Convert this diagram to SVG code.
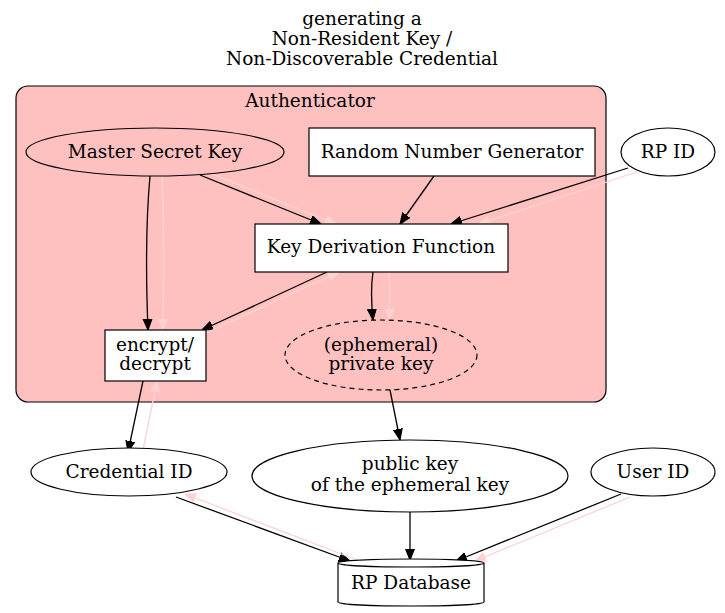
<svg xmlns="http://www.w3.org/2000/svg" width="725" height="613" viewBox="0 0 725 613">
<defs>
<marker id="ab" viewBox="0 0 10 10" refX="10" refY="5" markerWidth="11" markerHeight="11" markerUnits="userSpaceOnUse" orient="auto"><path d="M0,1 L10,5 L0,9 Z" fill="#000" stroke="#000"/></marker>
<marker id="ap" viewBox="0 0 10 10" refX="10" refY="5" markerWidth="11" markerHeight="11" markerUnits="userSpaceOnUse" orient="auto"><path d="M0,1 L10,5 L0,9 Z" fill="#ffd2d2" stroke="#ffd2d2"/></marker>
</defs>
<style>
text{font-family:"DejaVu Serif",serif;font-size:18.5px;fill:#000;text-anchor:middle}
.n{fill:#fff;stroke:#000;stroke-width:1.2}
.c{fill:none;stroke:#000;stroke-width:1.2}
.b{fill:none;stroke:#000;stroke-width:1.3;marker-end:url(#ab)}
.p{fill:none;stroke:#ffd2d2;stroke-width:1.3;marker-end:url(#ap)}
</style>
<rect width="725" height="613" fill="#fff"/>
<g id="title">
<text x="362" y="25">generating a</text>
<text x="362" y="45">Non-Resident Key /</text>
<text x="362" y="65">Non-Discoverable Credential</text>
</g>
<g id="cluster_authenticator">
<rect x="16" y="86" width="590" height="316" rx="12" fill="#ffc0c0" stroke="#000" stroke-width="1.2"/>
<text x="310" y="107">Authenticator</text>
</g>
<g id="edges">
<path class="b" d="M150,176 C146,220 146,280 148,330"/>
<path class="p" d="M162,176 C164,220 164,280 163,330"/>
<path class="b" d="M200,175 L321,224"/>
<path class="p" d="M212,174 L336,224"/>
<path class="b" d="M434,176 L400,224"/>
<path class="b" d="M628,168 L451,224"/>
<path class="p" d="M637,172 L479,224"/>
<path class="b" d="M327,272 L202,330"/>
<path class="p" d="M206,333 L339,272"/>
<path class="b" d="M373,272 C371,285 371,300 373,320"/>
<path class="p" d="M389,272 C390,285 390,300 389,320"/>
<path class="b" d="M143,381 L128,452"/>
<path class="p" d="M143,450 L157,381"/>
<path class="b" d="M390,390 L400,440"/>
<path class="b" d="M176,497 L350,561"/>
<path class="p" d="M357,560 L185,494"/>
<path class="b" d="M410,511 L410,560"/>
<path class="b" d="M621,494 L456,561"/>
<path class="p" d="M630,497 L475,561"/>
</g>
<g id="master_secret_key">
<ellipse class="c" cx="155" cy="152" rx="129" ry="24"/>
<text x="155" y="158">Master Secret Key</text>
</g>
<g id="rng">
<rect class="n" x="309" y="128" width="286" height="48"/>
<text x="452" y="158">Random Number Generator</text>
</g>
<g id="rp_id">
<ellipse class="n" cx="668" cy="152" rx="47" ry="24"/>
<text x="668" y="158">RP ID</text>
</g>
<g id="kdf">
<rect class="n" x="255" y="224" width="253" height="48"/>
<text x="381" y="253">Key Derivation Function</text>
</g>
<g id="encrypt_decrypt">
<rect class="n" x="105" y="330" width="101" height="51"/>
<text x="155" y="351">encrypt/</text>
<text x="155" y="370">decrypt</text>
</g>
<g id="ephemeral_private_key">
<ellipse class="c" cx="381" cy="355" rx="96" ry="35" stroke-dasharray="5,4"/>
<text x="381" y="351">(ephemeral)</text>
<text x="381" y="370">private key</text>
</g>
<g id="credential_id">
<ellipse class="n" cx="129" cy="472" rx="98" ry="24"/>
<text x="129" y="478">Credential ID</text>
</g>
<g id="public_key">
<ellipse class="n" cx="410" cy="476" rx="158" ry="36"/>
<text x="410" y="470">public key</text>
<text x="410" y="491">of the ephemeral key</text>
</g>
<g id="user_id">
<ellipse class="n" cx="653" cy="472" rx="62" ry="24"/>
<text x="653" y="478">User ID</text>
</g>
<g id="rp_database">
<path class="n" d="M484,563 V602 A73,4 0 0,1 338,602 V563 A73,4 0 0,1 484,563 A73,4 0 0,1 338,563"/>
<text x="411" y="589">RP Database</text>
</g>
</svg>
